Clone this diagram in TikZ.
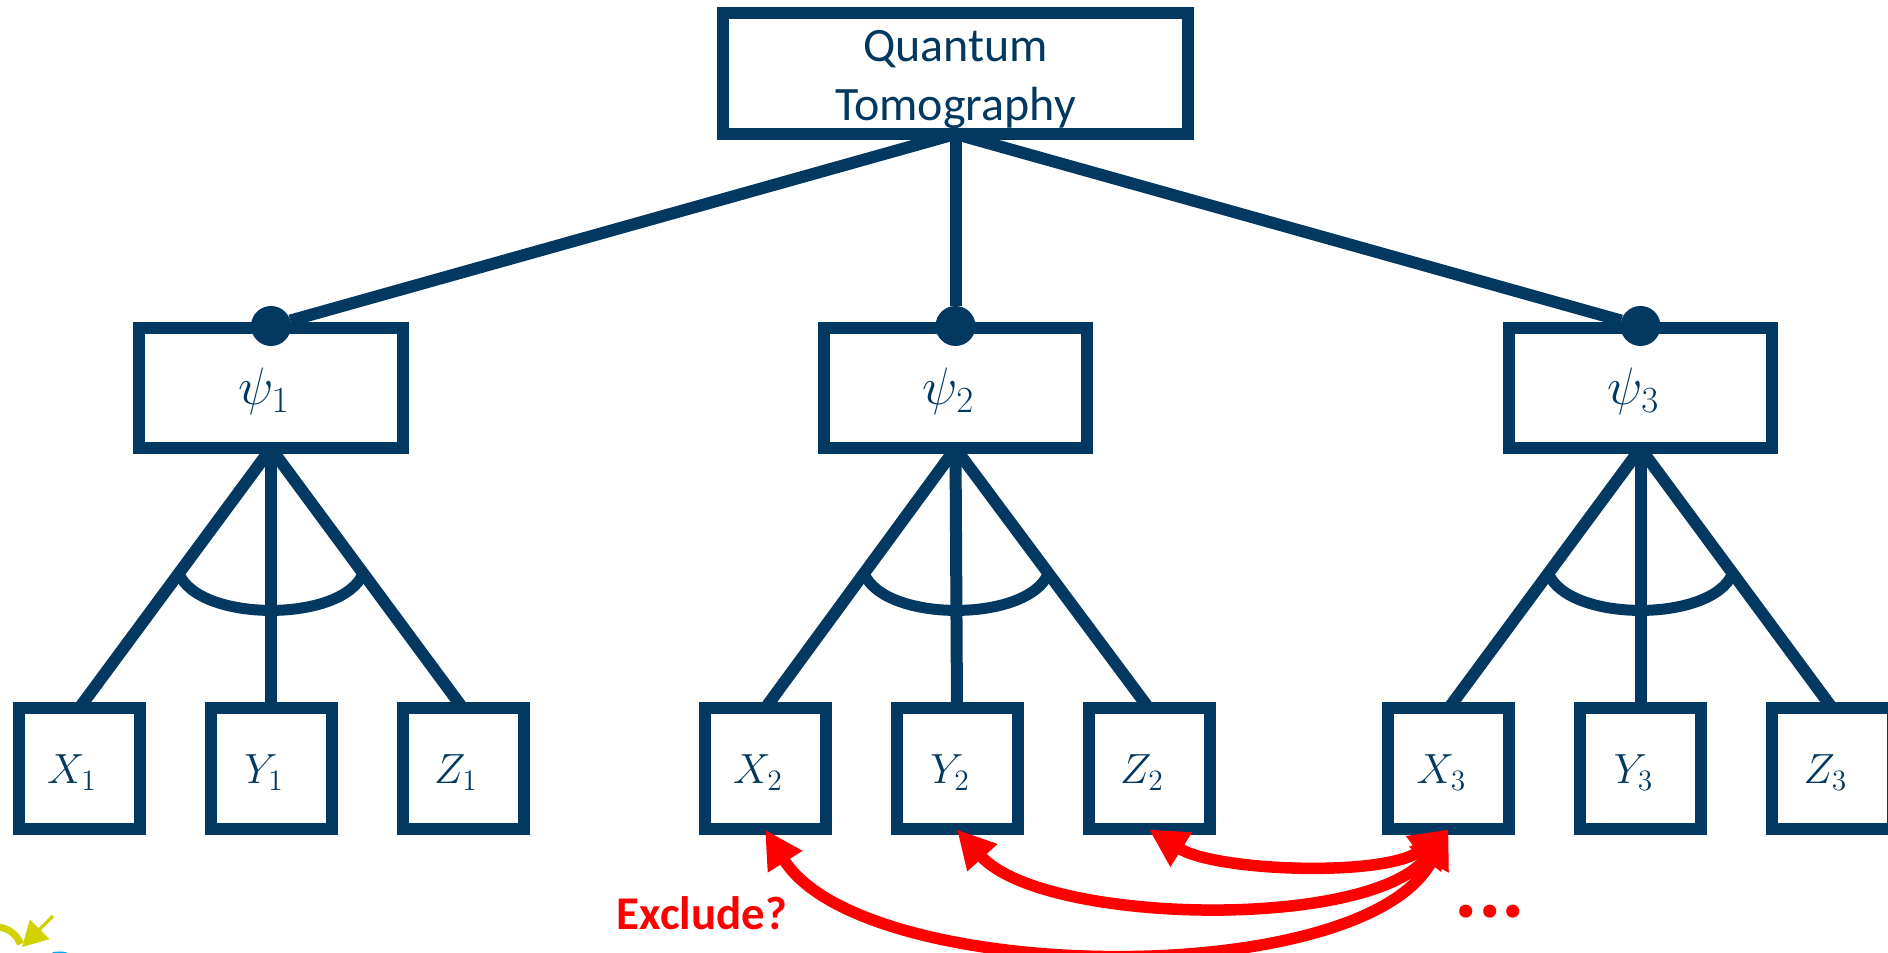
\documentclass[tikz,border=0pt]{standalone}
\usepackage{fix-cm}
\usepackage{fontspec}
\setmainfont{Carlito}
\usetikzlibrary{arrows.meta, positioning, calc}
\definecolor{qtblue}{RGB}{3,57,97}
\definecolor{qtred}{RGB}{255,0,0}
\definecolor{qtyellow}{RGB}{210,210,0}
\definecolor{qtcyan}{RGB}{0,170,240}
\newcommand{\qlabel}[2]{$#1_#2$\kern2.8mm}
\tikzset{
  goal/.style={rectangle, draw=qtblue, fill=white, line width=2.4mm, outer sep=0pt,
    minimum width=93mm, minimum height=24.2mm, text=qtblue, inner sep=0pt,
    font=\fontsize{27.3}{33.6}\selectfont, align=center},
  state/.style={rectangle, draw=qtblue, fill=white, line width=2.4mm, outer sep=0pt,
    minimum width=52.7mm, minimum height=24.1mm, text=qtblue, inner sep=0pt,
    text height=8.6mm, text depth=2.1mm, font=\fontsize{30}{36}\selectfont},
  meas/.style={rectangle, draw=qtblue, fill=white, line width=2.4mm, outer sep=0pt,
    minimum width=24.2mm, minimum height=24.2mm, text=qtblue, inner sep=0pt,
    text height=7.6mm, text depth=1.6mm, font=\fontsize{24}{30}\selectfont},
  dot/.style={circle, fill=qtblue, minimum size=8mm, inner sep=0pt, outer sep=0pt, yshift=0.4mm},
  link/.style={draw=qtblue, line width=2.4mm},
  andarc/.style={draw=qtblue, line width=2.2mm},
  swap/.style={draw=qtred, line width=2.3mm, {Triangle[length=7.6mm,width=7.6mm]}-{Triangle[length=7.6mm,width=7.6mm]}},
  note/.style={text=qtred, font=\fontsize{26.7}{32}\selectfont\bfseries}
}
\begin{document}
\begin{tikzpicture}[node distance=14.2mm]
  \clip (0,0) rectangle (377.6mm,190.6mm);
  \node[goal] (qt) at (191.1mm,175.9mm) {\rule{0pt}{8.6mm}Quantum\\Tomography};
  \node[state, below=38.8mm of qt] (psi2) {\qlabel{\psi}{2}};
  \node[state, left=84.2mm of psi2] (psi1) {\qlabel{\psi}{1}};
  \node[state, right=84.3mm of psi2] (psi3) {\qlabel{\psi}{3}};
  \node[meas, below=52mm of psi1] (y1) {\qlabel{Y}{1}};
  \node[meas, left=of y1] (x1) {\qlabel{X}{1}};
  \node[meas, right=of y1] (z1) {\qlabel{Z}{1}};
  \node[meas, below=52mm of psi2, xshift=0.3mm] (y2) {\qlabel{Y}{2}};
  \node[meas, left=of y2] (x2) {\qlabel{X}{2}};
  \node[meas, right=of y2] (z2) {\qlabel{Z}{2}};
  \node[meas, below=52mm of psi3] (y3) {\qlabel{Y}{3}};
  \node[meas, left=of y3] (x3) {\qlabel{X}{3}};
  \node[meas, right=of y3] (z3) {\qlabel{Z}{3}};
  \node[dot] (d1) at (psi1.north) {};
  \node[dot] (d2) at (psi2.north) {};
  \node[dot] (d3) at (psi3.north) {};
  \node[note] (excl) at (140.4mm,8mm) {Exclude?};
  \node[note, font=\fontsize{50}{60}\selectfont\bfseries] (more) at (298mm,8.3mm) {...};
  \draw[link] (qt.south) -- (d1);
  \draw[link] (qt.south) -- (d2);
  \draw[link] (qt.south) -- (d3);
  \foreach \n in {1,2,3} {
    \draw[link] (psi\n.south) -- (x\n.north);
    \draw[link] (psi\n.south) -- (y\n.north);
    \draw[link] (psi\n.south) -- (z\n.north);
    \coordinate (al\n) at ($(psi\n.south)!0.48!(x\n.north)$);
    \coordinate (ar\n) at ($(psi\n.south)!0.48!(z\n.north)$);
    \draw[andarc] (al\n) .. controls +(4mm,-9.9mm) and +(-4mm,-9.9mm) .. (ar\n);
  }
  \draw[swap] (x2.south) to[out=-58,in=-118,looseness=0.69] (x3.south);
  \draw[swap] (y2.south) to[out=-48,in=-128,looseness=0.67] (x3.south);
  \draw[swap] (z2.south) to[out=-32,in=-143,looseness=0.68] (x3.south);
  % corner marks
  \coordinate (tail) at (10.6mm,7.4mm);
  \coordinate (tip) at (4.4mm,1.2mm);
  \draw[draw=qtyellow, line width=0.7mm, -{Triangle[length=5mm,width=5.4mm]}] (tail) -- (tip);
  \draw[draw=qtyellow, line width=1.4mm] (-6mm,0mm) arc[start angle=180, end angle=20, radius=5.2mm];
  \fill[qtcyan] (10.4mm,0mm) arc[start angle=180, end angle=0, x radius=1.5mm, y radius=0.3mm] -- cycle;
\end{tikzpicture}
\end{document}
